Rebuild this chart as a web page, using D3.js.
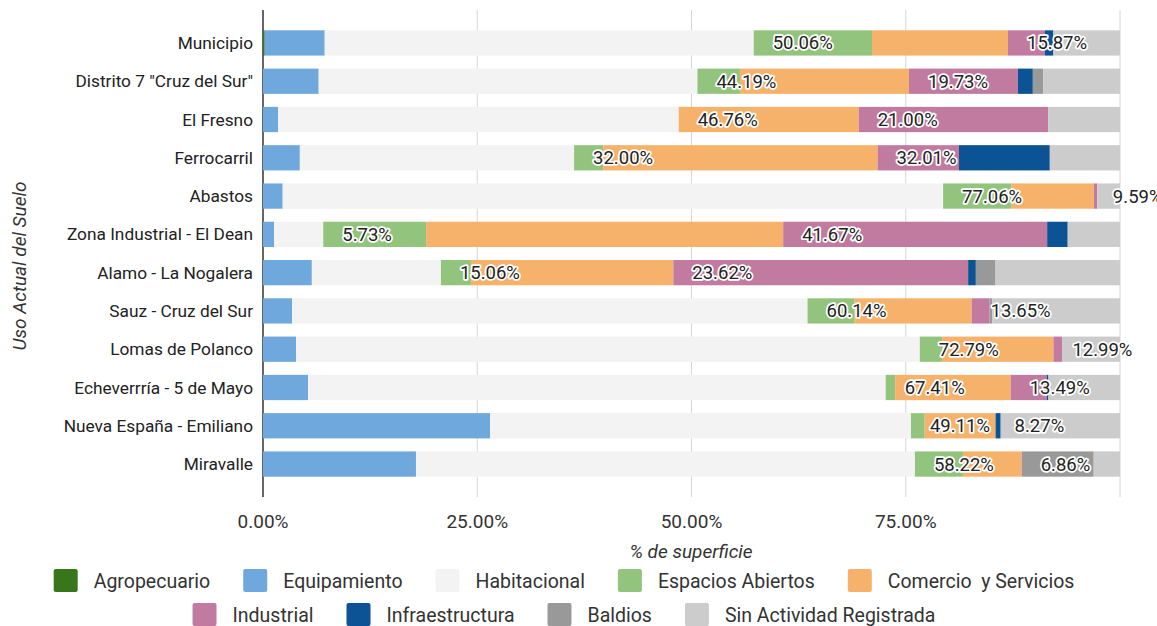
<!DOCTYPE html>
<html>
<head>
<meta charset="utf-8">
<script src="https://cdn.jsdelivr.net/npm/d3@7"></script>
<style>
body { margin: 0; background: #fff; font-family: Roboto, sans-serif; }
</style>
</head>
<body>
<div id="chart"></div>
<script>
var width = 1157, height = 626;

// uso de suelo por zona (% de superficie)
var categories = ["Municipio", "Distrito 7 \"Cruz del Sur\"", "El Fresno", "Ferrocarril", "Abastos",
  "Zona Industrial - El Dean", "Alamo - La Nogalera", "Sauz - Cruz del Sur", "Lomas de Polanco",
  "Echeverrría - 5 de Mayo", "Nueva España - Emiliano", "Miravalle"];
var agropecuario    = [0.2, 0, 0, 0, 0, 0, 0, 0, 0, 0, 0, 0];
var equipamiento    = [7.0, 6.5, 1.75, 4.3, 2.3, 1.3, 5.7, 3.4, 3.85, 5.25, 26.5, 17.85];
var habitacional    = [50.06, 44.19, 46.76, 32.00, 77.06, 5.73, 15.06, 60.14, 72.79, 67.41, 49.11, 58.22];
var espacios        = [13.8, 4.96, 0, 3.4, 8.0, 12.0, 3.5, 5.5, 2.6, 1.1, 1.6, 5.6];
var comercio        = [15.87, 19.73, 21.00, 32.01, 9.59, 41.67, 23.62, 13.65, 12.99, 13.49, 8.27, 6.86];
var industrial      = [4.3, 12.7, 22.1, 9.5, 0.4, 30.8, 34.4, 2.1, 1.0, 4.2, 0, 0];
var infraestructura = [1.0, 1.75, 0, 10.6, 0, 2.4, 0.9, 0, 0, 0.2, 0.6, 0];
var baldios         = [0, 1.2, 0, 0, 0, 0, 2.3, 0.3, 0, 0, 0, 8.4];
var sinActividad    = [7.77, 8.97, 8.39, 8.19, 2.65, 6.1, 14.52, 14.91, 6.77, 8.35, 13.92, 3.07];

var seriesNames = ["Agropecuario", "Equipamiento", "Habitacional", "Espacios Abiertos",
  "Comercio  y Servicios", "Industrial", "Infraestructura", "Baldios", "Sin Actividad Registrada"];
var seriesValues = [agropecuario, equipamiento, habitacional, espacios, comercio,
  industrial, infraestructura, baldios, sinActividad];
var colors = ["#38761d", "#6fa8dc", "#f3f3f3", "#93c47d", "#f6b26b",
  "#c27ba0", "#0b5394", "#999999", "#cccccc"];
var labeled = ["Habitacional", "Comercio  y Servicios"];
var ticks = [0, 25, 50, 75];

var rows = categories.map(function(c, i) {
  var r = { cat: c };
  seriesNames.forEach(function(k, j) { r[k] = seriesValues[j][i]; });
  return r;
});

var stack = d3.stack().keys(seriesNames)(rows);

var svg = d3.select("#chart").append("svg")
  .attr("width", width)
  .attr("height", height);

var x = d3.scaleLinear().domain([0, 100]).range([263, 1120]);
var y = d3.scaleBand().domain(categories).range([17.3, 489.7]).padding(0.34);
var color = d3.scaleOrdinal().domain(seriesNames).range(colors);

// gridlines
svg.append("g").selectAll("line")
  .data([25, 50, 75, 100])
  .enter().append("line")
    .attr("x1", function(d) { return x(d); })
    .attr("x2", function(d) { return x(d); })
    .attr("y1", 10).attr("y2", 497)
    .attr("stroke", "#d6d6d6").attr("stroke-width", 1);

svg.append("line")
  .attr("x1", x(0)).attr("x2", x(0))
  .attr("y1", 10).attr("y2", 497)
  .attr("stroke", "#333").attr("stroke-width", 1.5);

svg.append("g").selectAll("g")
  .data(stack)
  .enter().append("g")
    .attr("fill", function(d) { return color(d.key); })
  .selectAll("rect")
    .data(function(d) { return d; })
    .enter().append("rect")
      .attr("x", function(d) { return x(d[0]); })
      .attr("y", function(d) { return y(d.data.cat); })
      .attr("width", function(d) { return Math.max(0, x(d[1]) - x(d[0])); })
      .attr("height", y.bandwidth());

// data labels
stack.filter(function(s) { return labeled.indexOf(s.key) >= 0; }).forEach(function(s) {
  svg.append("g").selectAll("text")
    .data(s)
    .enter().append("text")
      .attr("x", function(d) { return x(d[1]) + 19; })
      .attr("y", function(d) { return y(d.data.cat) + y.bandwidth() / 2; })
      .attr("dy", "0.35em")
      .attr("font-size", 18.5)
      .attr("fill", "#222")
      .attr("stroke", "#fff")
      .attr("stroke-width", 3.5)
      .attr("stroke-linejoin", "round")
      .attr("paint-order", "stroke")
      .text(function(d) { return (d[1] - d[0]).toFixed(2) + "%"; });
});

// category labels
svg.append("g").selectAll("text")
  .data(categories)
  .enter().append("text")
    .attr("x", 253)
    .attr("y", function(d) { return y(d) + y.bandwidth() / 2; })
    .attr("dy", "0.35em")
    .attr("text-anchor", "end")
    .attr("font-size", 17.3)
    .attr("fill", "#222")
    .text(function(d) { return d; });

// x tick labels
svg.append("g").selectAll("text")
  .data(ticks)
  .enter().append("text")
    .attr("x", function(d) { return x(d); })
    .attr("y", 528)
    .attr("text-anchor", "middle")
    .attr("font-size", 19)
    .attr("fill", "#333")
    .text(function(d) { return d.toFixed(2) + "%"; });

svg.append("text")
  .attr("x", 691).attr("y", 558)
  .attr("text-anchor", "middle")
  .attr("font-size", 19)
  .attr("font-style", "italic")
  .attr("fill", "#333")
  .text("% de superficie");

svg.append("text")
  .attr("transform", "translate(26,266) rotate(-90)")
  .attr("text-anchor", "middle")
  .attr("font-size", 19)
  .attr("font-style", "italic")
  .attr("fill", "#333")
  .text("Uso Actual del Suelo");

// legend, two centered rows
var legendRows = [seriesNames.slice(0, 5), seriesNames.slice(5)];
legendRows.forEach(function(names, ri) {
  var g = svg.append("g");
  var cx = 0;
  names.forEach(function(n) {
    var item = g.append("g").attr("transform", "translate(" + cx + ",0)");
    item.append("rect")
      .attr("x", 0).attr("y", -12)
      .attr("width", 24).attr("height", 23)
      .attr("rx", 2)
      .attr("fill", color(n));
    var t = item.append("text")
      .attr("x", 40).attr("dy", "0.35em")
      .attr("font-size", 19.5)
      .attr("fill", "#333")
      .style("white-space", "pre")
      .text(n);
    cx += 40 + t.node().getComputedTextLength() + 33;
  });
  var total = cx - 33;
  g.attr("transform", "translate(" + (564 - total / 2) + "," + (ri === 0 ? 581 : 615) + ")");
});
</script>
</body>
</html>
